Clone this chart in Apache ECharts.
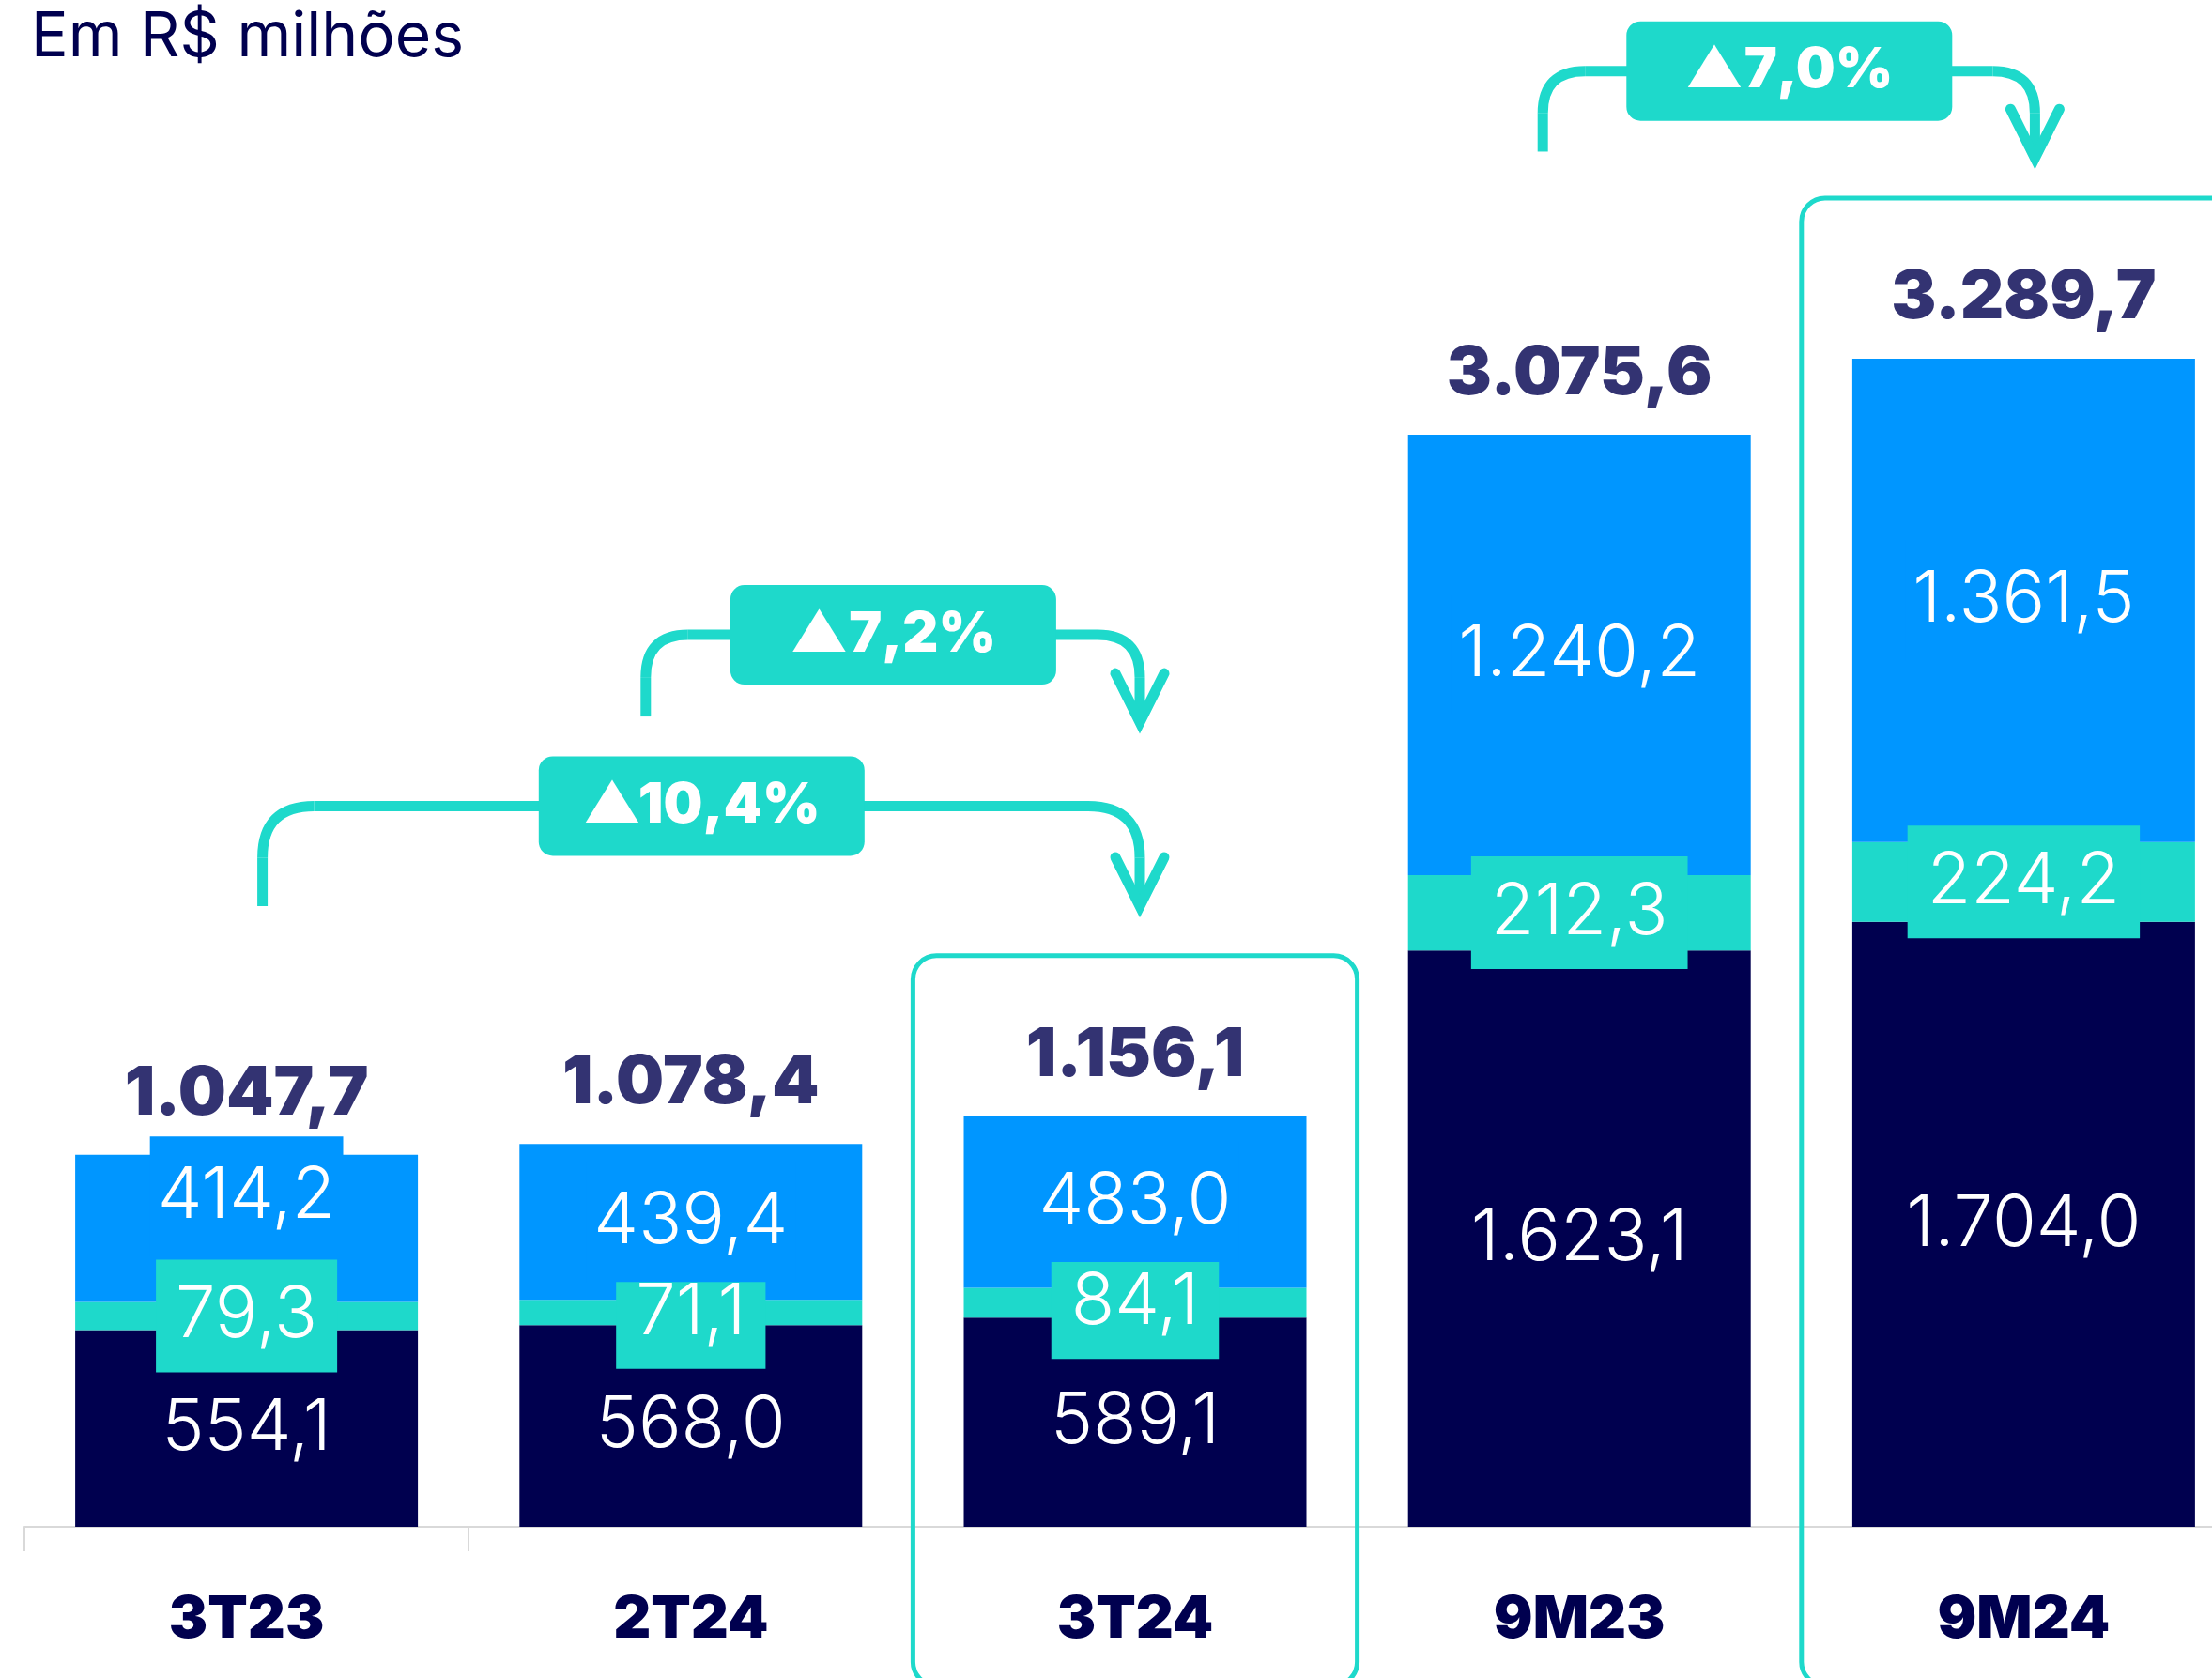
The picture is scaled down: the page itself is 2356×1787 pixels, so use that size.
<!DOCTYPE html>
<html>
<head>
<meta charset="utf-8">
<script src="https://cdn.jsdelivr.net/npm/echarts@6/dist/echarts.min.js"></script>
<style>
  html, body { margin: 0; padding: 0; background: #fff; }
  #chart { width: 2356px; height: 1787px; }
</style>
</head>
<body>
<div id="chart"></div>
<script>
// dados (R$ milhões)
const categories = ['3T23', '2T24', '3T24', '9M23', '9M24']
const navyValues = [554.1, 568.0, 589.1, 1623.1, 1704.0]
const tealValues = [79.3, 71.1, 84.1, 212.3, 224.2]
const blueValues = [414.2, 439.4, 483.0, 1240.2, 1361.5]
const totals = [1047.7, 1078.4, 1156.1, 3075.6, 3289.7]
const highlighted = ['3T24', '9M24']
const growthFrom = ['3T23', '2T24', '9M23']
const growthTo = ['3T24', '3T24', '9M24']
const growthLabels = ['▲10,4%', '▲7,2%', '▲7,0%']

const NAVY = '#00004f'
const BLUE = '#0096ff'
const TEAL = '#1ed9cb'
const FONT = 'Inter, "Noto Sans", sans-serif'

// 1047.7 -> 1.047,7
function fmt(v) {
  const parts = Number(v).toFixed(1).split('.')
  return parts[0].replace(/\B(?=(\d{3})+(?!\d))/g, '.') + ',' + parts[1]
}

const segLabel = {
  show: true,
  position: 'inside',
  formatter: p => fmt(p.value),
  color: '#fff',
  fontFamily: FONT,
  fontWeight: 300,
  fontSize: 76,
  lineHeight: 76
}

const chart = echarts.init(document.getElementById('chart'))

chart.setOption({
  animation: false,
  title: {
    text: 'Em R$ milhões',
    left: 28,
    top: 2,
    textStyle: { color: NAVY, fontFamily: FONT, fontWeight: 400, fontSize: 66 }
  },
  // a última categoria passa da borda direita, como no original
  grid: { left: 26, top: 0, width: 2366, bottom: 161, outerBoundsMode: 'none' },
  xAxis: {
    type: 'category',
    data: categories,
    axisLine: { lineStyle: { color: '#d9d9d9', width: 2 } },
    axisTick: { show: true, length: 26, lineStyle: { color: '#d9d9d9', width: 2 } },
    axisLabel: { color: NAVY, fontFamily: FONT, fontWeight: 900, fontSize: 62, margin: 68 }
  },
  yAxis: { type: 'value', min: 0, max: 4300, show: false },
  series: [
    {
      name: 'navy',
      type: 'bar',
      stack: 'total',
      barWidth: 365,
      data: navyValues,
      itemStyle: { color: NAVY },
      label: segLabel
    },
    {
      name: 'teal',
      type: 'bar',
      stack: 'total',
      barWidth: 365,
      data: tealValues,
      itemStyle: { color: TEAL },
      label: Object.assign({}, segLabel, { backgroundColor: TEAL, padding: [22, 21] })
    },
    {
      name: 'blue',
      type: 'bar',
      stack: 'total',
      barWidth: 365,
      // rótulo do 3T23 sobe para não encostar no teal
      data: blueValues.map((v, i) => (i === 0 ? { value: v, label: { offset: [0, -34] } } : v)),
      itemStyle: { color: BLUE },
      label: Object.assign({}, segLabel, { backgroundColor: BLUE, padding: [26, 8] })
    },
    {
      name: 'total',
      type: 'scatter',
      data: totals,
      symbolSize: 1,
      itemStyle: { color: 'rgba(0,0,0,0)' },
      label: {
        show: true,
        position: 'top',
        distance: 28,
        formatter: p => fmt(p.value),
        color: NAVY,
        fontFamily: FONT,
        fontWeight: 900,
        fontSize: 72
      }
    }
  ]
})

// molduras e setas de variação, posicionadas pelas escalas do gráfico
function px(cat, val) {
  return chart.convertToPixel({ gridIndex: 0 }, [categories.indexOf(cat), val])
}

function drawAnnotations() {
  const H = chart.getHeight()
  const band = px(categories[1], 0)[0] - px(categories[0], 0)[0]
  const els = []

  highlighted.forEach(cat => {
    const i = categories.indexOf(cat)
    const cx = px(cat, 0)[0]
    const top = px(cat, totals[i])[1] - 171
    els.push({
      type: 'rect',
      z: 10,
      shape: { x: cx - band / 2, y: top, width: band, height: H - top + 8, r: 25 },
      style: { fill: 'none', stroke: TEAL, lineWidth: 5 }
    })
  })

  // altura da linha, base da perna esquerda e ponta da seta (valores do eixo y)
  const conn = [
    { line: 2030, leg: 1748, tip: 1748, dxL: 17, dxR: 5, r: 55 },
    { line: 2512, leg: 2282, tip: 2266, dxL: -48, dxR: 5, r: 45 },
    { line: 4100, leg: 3873, tip: 3855, dxL: -39, dxR: 12, r: 45 }
  ]
  const lineStyle = { stroke: TEAL, lineWidth: 11, fill: 'none' }

  conn.forEach((c, k) => {
    const xL = px(growthFrom[k], 0)[0] + c.dxL
    const xR = px(growthTo[k], 0)[0] + c.dxR
    const yLine = px(growthFrom[k], c.line)[1]
    const yLeg = px(growthFrom[k], c.leg)[1]
    const yTip = px(growthTo[k], c.tip)[1]
    const r = c.r
    els.push(
      { type: 'line', z: 10, shape: { x1: xL, y1: yLeg, x2: xL, y2: yLine + r }, style: lineStyle },
      { type: 'bezierCurve', z: 10, shape: { x1: xL, y1: yLine + r, cpx1: xL, cpy1: yLine, x2: xL + r, y2: yLine }, style: lineStyle },
      { type: 'line', z: 10, shape: { x1: xL + r, y1: yLine, x2: xR - r, y2: yLine }, style: lineStyle },
      { type: 'bezierCurve', z: 10, shape: { x1: xR - r, y1: yLine, cpx1: xR, cpy1: yLine, x2: xR, y2: yLine + r }, style: lineStyle },
      { type: 'line', z: 10, shape: { x1: xR, y1: yLine + r, x2: xR, y2: yTip - 10 }, style: lineStyle },
      {
        type: 'polyline', z: 10,
        shape: { points: [[xR - 26, yTip - 52], [xR, yTip], [xR + 26, yTip - 52]] },
        style: { stroke: TEAL, lineWidth: 11, fill: 'none', lineCap: 'round', lineJoin: 'miter' }
      }
    )
    const mid = (xL + xR) / 2
    els.push(
      { type: 'rect', z: 11, shape: { x: mid - 173, y: yLine - 53, width: 347, height: 106, r: 15 }, style: { fill: TEAL } },
      {
        type: 'text', z: 12, x: mid, y: yLine,
        style: {
          text: growthLabels[k], align: 'center', verticalAlign: 'middle',
          fill: '#fff', fontFamily: FONT, fontWeight: 900, fontSize: 59
        }
      }
    )
  })

  chart.setOption({ graphic: els })
}

drawAnnotations()
</script>
</body>
</html>
